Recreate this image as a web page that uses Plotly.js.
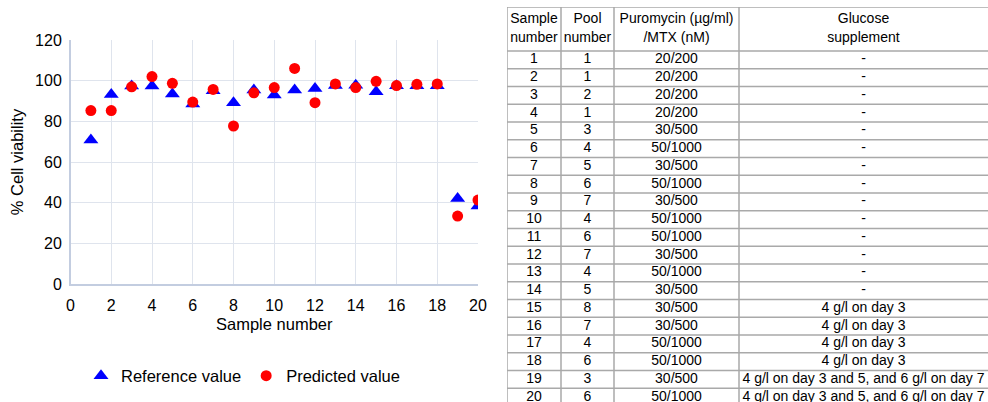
<!DOCTYPE html>
<html>
<head>
<meta charset="utf-8">
<script src="https://cdn.plot.ly/plotly-3.0.1.min.js"></script>
<style>
html,body{margin:0;padding:0;background:#fff;}
#chart{width:988px;height:402px;}
</style>
</head>
<body>
<div id="chart"></div>
<script>
// ---- data ----
var sampleNumbers = [1,2,3,4,5,6,7,8,9,10,11,12,13,14,15,16,17,18,19,20];
var referenceValue = [70.8,93.2,97.4,97.4,93.5,88.5,95.0,89.2,95.4,93.0,95.4,96.2,97.6,97.7,94.6,97.5,97.5,97.5,42.1,38.4];
var predictedValue = [85.3,85.3,97.0,102.0,98.7,89.5,95.7,77.7,94.0,96.6,106.0,89.2,98.4,96.6,99.7,97.6,98.2,98.4,33.4,41.3];
var poolNumbers = [1,1,2,1,3,4,5,6,7,4,6,7,4,5,8,7,4,6,3,6];
var selection = ["20/200","20/200","20/200","20/200","30/500","50/1000","30/500","50/1000","30/500","50/1000",
                 "50/1000","30/500","50/1000","30/500","30/500","30/500","50/1000","50/1000","30/500","50/1000"];
var glucose = ["-","-","-","-","-","-","-","-","-","-","-","-","-","-",
               "4 g/l on day 3","4 g/l on day 3","4 g/l on day 3","4 g/l on day 3",
               "4 g/l on day 3 and 5, and 6 g/l on day 7","4 g/l on day 3 and 5, and 6 g/l on day 7"];
var tableHeaders = ["Sample<br>number","Pool<br>number","Puromycin (µg/ml)<br>/MTX (nM)","Glucose<br>supplement"];
var xTickVals = [0,2,4,6,8,10,12,14,16,18,20];
var yTickVals = [0,20,40,60,80,100,120];

// ---- layout constants ----
var W = 988, H = 402;
var FONT = "Liberation Sans, Arial, sans-serif";
var colWidths = [54, 53, 125, 249];
var headerH = 44, rowH = 17.75;
var tableLeft = 507, tableTop = 7;
var tableW = colWidths.reduce(function(a, b){ return a + b; }, 0);
var tableViewH = H - tableTop;
var gridColor = "#a9a9a9";

var colEdges = [0];
colWidths.forEach(function(w, i){ colEdges.push(colEdges[i] + w); });
var colCenters = colWidths.map(function(w, i){ return colEdges[i] + w / 2; });
var rowCenters = sampleNumbers.map(function(_, i){ return headerH + rowH * (i + 0.5); });

var tableColumns = [sampleNumbers, poolNumbers, selection, glucose];

var traces = [
  {
    type: "scatter", mode: "markers", name: "Reference value",
    x: sampleNumbers, y: referenceValue,
    marker: {symbol: "triangle-up", size: 13, color: "#0000ff"},
    xaxis: "x", yaxis: "y", hoverinfo: "skip"
  },
  {
    type: "scatter", mode: "markers", name: "Predicted value",
    x: sampleNumbers, y: predictedValue,
    marker: {symbol: "circle", size: 11, color: "#ff0000"},
    xaxis: "x", yaxis: "y", hoverinfo: "skip"
  }
];

// table header
traces.push({
  type: "scatter", mode: "text", showlegend: false, hoverinfo: "skip",
  x: colCenters, y: colCenters.map(function(){ return headerH / 2; }),
  text: tableHeaders, textposition: "middle center",
  textfont: {family: FONT, size: 14, color: "#000"},
  xaxis: "x2", yaxis: "y2", cliponaxis: true
});
// table body, one trace per column
tableColumns.forEach(function(col, c){
  traces.push({
    type: "scatter", mode: "text", showlegend: false, hoverinfo: "skip",
    x: col.map(function(){ return colCenters[c]; }), y: rowCenters,
    text: col.map(String), textposition: "middle center",
    textfont: {family: FONT, size: 14, color: "#000"},
    xaxis: "x2", yaxis: "y2", cliponaxis: true
  });
});

// table rules
var shapes = [];
var hLines = [0, headerH].concat(sampleNumbers.map(function(_, i){ return headerH + rowH * (i + 1); }));
hLines.forEach(function(yv){
  shapes.push({type: "line", xref: "x2", yref: "y2", x0: 0, x1: tableW, y0: yv, y1: yv,
               line: {color: gridColor, width: 1.5}});
});
colEdges.slice(0, colEdges.length - 1).forEach(function(xv){
  shapes.push({type: "line", xref: "x2", yref: "y2", x0: xv, x1: xv, y0: 0, y1: headerH + rowH * sampleNumbers.length,
               line: {color: gridColor, width: 1.5}});
});

var layout = {
  width: W, height: H,
  margin: {l: 0, r: 0, t: 0, b: 0},
  paper_bgcolor: "#fff", plot_bgcolor: "#fff",
  font: {family: FONT, size: 16, color: "#000"},
  showlegend: true,
  legend: {
    orientation: "h",
    x: 81/W, xanchor: "left",
    y: 1 - 376/H, yanchor: "middle",
    font: {family: FONT, size: 16.5, color: "#000"},
    itemwidth: 30,
    tracegroupgap: 0
  },
  shapes: shapes,
  xaxis: {
    domain: [70.5/W, 478/W],
    range: [0, 20],
    tickvals: xTickVals,
    showgrid: true, gridcolor: "#dfe4ed", gridwidth: 1,
    zeroline: false,
    showline: true, linecolor: "#c3cde0", linewidth: 1.5,
    ticks: "outside", ticklen: 6, tickcolor: "rgba(0,0,0,0)",
    tickfont: {family: FONT, size: 16, color: "#000"},
    title: {text: "Sample number", font: {family: FONT, size: 16.5, color: "#000"}, standoff: 5},
    anchor: "y",
    fixedrange: true
  },
  yaxis: {
    domain: [1 - 284/H, 1 - 40/H],
    range: [0, 120],
    tickvals: yTickVals,
    showgrid: true, gridcolor: "#dfe4ed", gridwidth: 1,
    zeroline: false,
    showline: true, linecolor: "#c3cde0", linewidth: 1.5,
    ticks: "outside", ticklen: 4, tickcolor: "rgba(0,0,0,0)",
    tickfont: {family: FONT, size: 16, color: "#000"},
    title: {text: "% Cell viability", font: {family: FONT, size: 16.5, color: "#000"}, standoff: 7},
    anchor: "x",
    fixedrange: true
  },
  xaxis2: {
    domain: [tableLeft/W, (tableLeft + tableW)/W],
    range: [0, tableW], visible: false, fixedrange: true, anchor: "y2"
  },
  yaxis2: {
    domain: [0, tableViewH/H],
    range: [tableViewH, 0], visible: false, fixedrange: true, anchor: "x2"
  }
};

Plotly.newPlot("chart", traces, layout, {displayModeBar: false, staticPlot: true});
</script>
</body>
</html>
